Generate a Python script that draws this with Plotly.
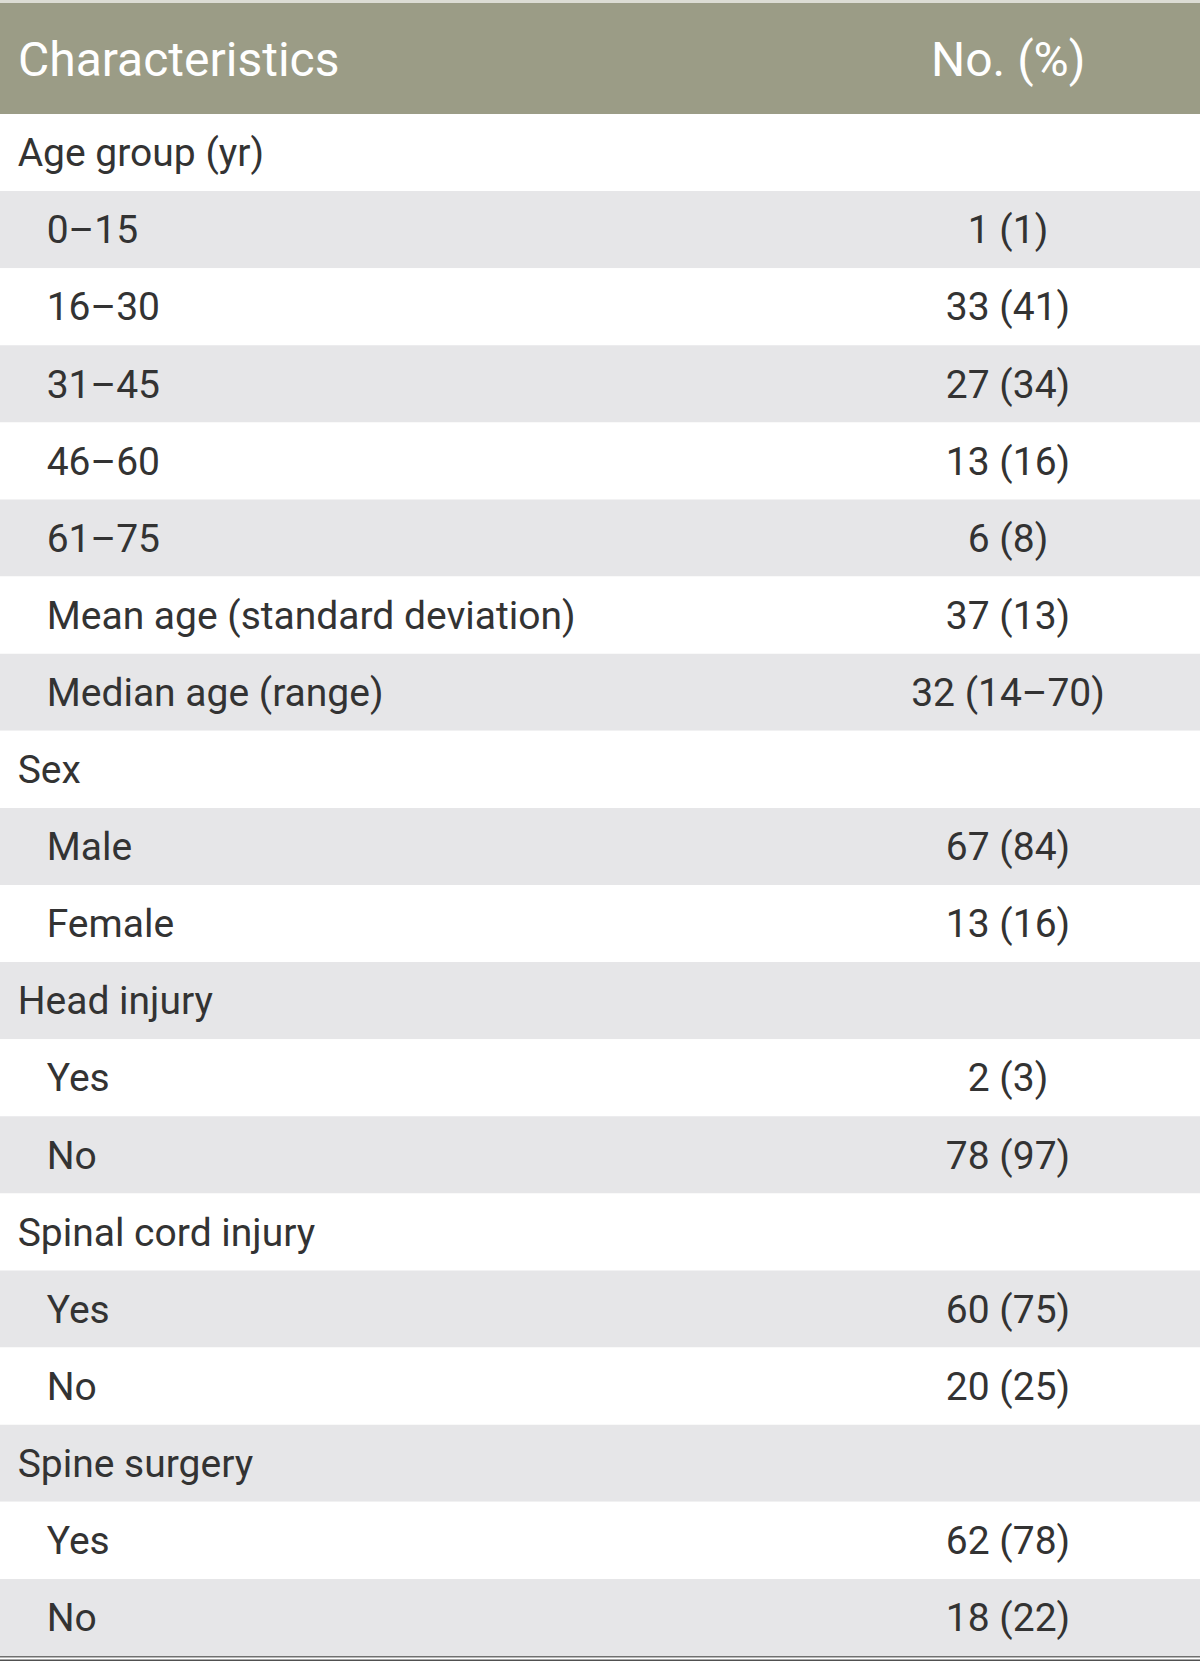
import plotly.graph_objects as go

# ---- data ----
header_labels = ["Characteristics", "No. (%)"]
labels = ["Age group (yr)", "0–15", "16–30", "31–45", "46–60", "61–75",
          "Mean age (standard deviation)", "Median age (range)",
          "Sex", "Male", "Female",
          "Head injury", "Yes", "No",
          "Spinal cord injury", "Yes", "No",
          "Spine surgery", "Yes", "No"]
levels = [0, 1, 1, 1, 1, 1, 1, 1,
          0, 1, 1,
          0, 1, 1,
          0, 1, 1,
          0, 1, 1]
values = ["", "1 (1)", "33 (41)", "27 (34)", "13 (16)", "6 (8)",
          "37 (13)", "32 (14–70)",
          "", "67 (84)", "13 (16)",
          "", "2 (3)", "78 (97)",
          "", "60 (75)", "20 (25)",
          "", "62 (78)", "18 (22)"]

# ---- style ----
FONT = "Roboto, Liberation Sans, Arial, sans-serif"
W, H = 1200, 1666
TOP = 3
HEADER_BOTTOM = 114
ROW_H = 77.1
TEXT_SHIFT = -1
HEADER_BG = "#9b9c86"
GREY = "#e6e6e8"
TEXT = "#333333"
COL_W = [816, 384]

NB = "\u00a0"
col1 = [NB * (1 if lv == 0 else 4) + s for s, lv in zip(labels, levels)]
n = len(labels)
fills = ["#ffffff" if i % 2 == 0 else GREY for i in range(n)]
CLEAR = "rgba(0,0,0,0)"

def py(pix):
    return (H - pix) / H

table_top = HEADER_BOTTOM + TEXT_SHIFT

fig = go.Figure(go.Table(
    columnwidth=COL_W,
    domain=dict(x=[0, 1], y=[0, py(table_top)]),
    header=dict(values=None, height=0, fill_color=CLEAR,
                line=dict(color=CLEAR, width=0)),
    cells=dict(
        values=[col1, values],
        fill_color=CLEAR,
        line=dict(color=CLEAR, width=0),
        align=["left", "center"],
        font=dict(family=FONT, size=39, color=TEXT),
        height=ROW_H,
    ),
))

# row backgrounds
for i, f in enumerate(fills):
    y0 = HEADER_BOTTOM + ROW_H * i
    fig.add_shape(type="rect", xref="paper", yref="paper", layer="below",
                  x0=0, x1=1, y0=py(y0), y1=py(y0 + ROW_H),
                  fillcolor=f, line=dict(width=0))

# header band
fig.add_shape(type="rect", xref="paper", yref="paper", layer="below",
              x0=0, x1=1, y0=py(TOP), y1=py(HEADER_BOTTOM),
              fillcolor=HEADER_BG, line=dict(width=0))
fig.add_shape(type="rect", xref="paper", yref="paper", layer="below",
              x0=0, x1=1, y0=py(0), y1=py(TOP),
              fillcolor="#dcdcd4", line=dict(width=0))

header_mid = (TOP + HEADER_BOTTOM) / 2 + 0.5
fig.add_annotation(text=header_labels[0], xref="paper", yref="paper",
                   x=16 / W, y=py(header_mid), xanchor="left", yanchor="middle",
                   showarrow=False, font=dict(family=FONT, size=48, color="white"))
fig.add_annotation(text=header_labels[1], xref="paper", yref="paper",
                   x=(COL_W[0] + COL_W[1] / 2) / W, y=py(header_mid),
                   xanchor="center", yanchor="middle",
                   showarrow=False, font=dict(family=FONT, size=48, color="white"))

# bottom double rule
bottom = HEADER_BOTTOM + ROW_H * n
for off, col in [(0.8, "#707070"), (4.2, "#505050")]:
    fig.add_shape(type="line", xref="paper", yref="paper", x0=0, x1=1,
                  y0=py(bottom + off), y1=py(bottom + off),
                  line=dict(color=col, width=1.6))

fig.update_layout(
    width=W, height=H,
    margin=dict(l=0, r=0, t=0, b=0, pad=0),
    paper_bgcolor="white", plot_bgcolor="white",
)
fig.write_html("out.html", config={"displayModeBar": False},
               post_script="document.body.style.margin='0';")
